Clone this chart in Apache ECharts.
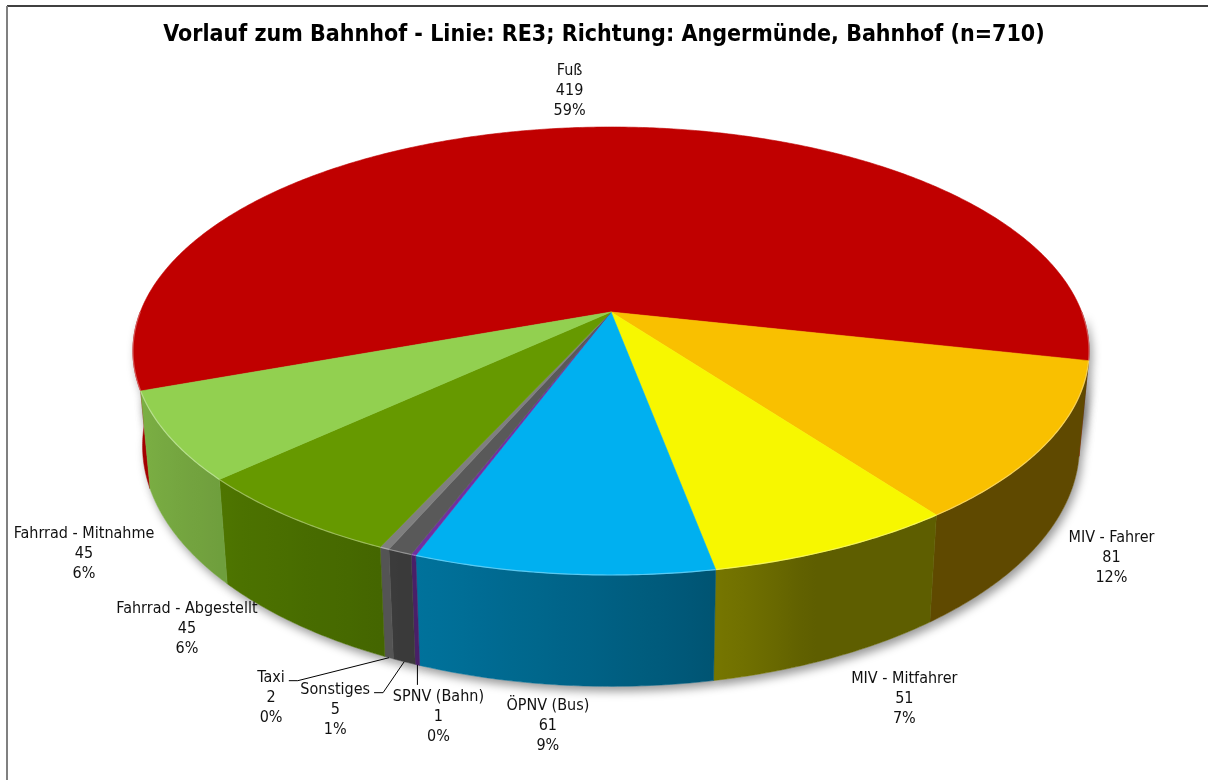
<!DOCTYPE html>
<html>
<head>
<meta charset="utf-8">
<title>Vorlauf zum Bahnhof - RE3</title>
<script src="https://cdn.jsdelivr.net/npm/echarts@6/dist/echarts.min.js"></script>
<style>
  html, body { margin: 0; padding: 0; background: #fff; }
  #main { width: 1208px; height: 780px; }
</style>
</head>
<body>
<div id="main"></div>
<script>
// Daten
var categories = ['Fuß', 'MIV - Fahrer', 'MIV - Mitfahrer', 'ÖPNV (Bus)', 'SPNV (Bahn)',
  'Sonstiges', 'Taxi', 'Fahrrad - Abgestellt', 'Fahrrad - Mitnahme'];
var counts = [419, 81, 51, 61, 1, 5, 2, 45, 45];
var percentLabels = ['59%', '12%', '7%', '9%', '0%', '1%', '0%', '6%', '6%'];
var titleText = 'Vorlauf zum Bahnhof - Linie: RE3; Richtung: Angermünde, Bahnhof (n=710)';

// Farben / Layout
var sliceColors = ['#C00000', '#F9C000', '#F7F700', '#00B0F0', '#7030A0',
  '#595959', '#7F7F7F', '#669900', '#92D050'];
var FONT = '"DejaVu Sans Condensed", "Liberation Sans", sans-serif';
// 3D-Torte: Mittelpunkt, Radien, Perspektive, Höhe, Startwinkel (mathematisch, im Uhrzeigersinn)
var PIE = { cx: 611, cy: 312, rx: 470.7, ry: 217.2, persp: 0.1741, depth: 92, baseScale: 0.98, startAngle: 200 };
// Beschriftung relativ zum Randpunkt des Segments
var labelNudge = [[-15, -37], [73, 14], [74, 40], [-16, 41], [21, 52], [-69, 48], [-118, 40], [-110, 5], [-94, 16]];
var leaderKind = ['', '', '', '', 'top', 'side', 'side', '', ''];

var total = counts.reduce(function (a, b) { return a + b; }, 0);

function sliceRange(i) {
  var before = 0;
  for (var j = 0; j < i; j++) before += counts[j];
  var a0 = PIE.startAngle - before / total * 360;
  return [a0, a0 - counts[i] / total * 360];
}
function topPt(deg) {
  var r = deg * Math.PI / 180, u = Math.cos(r), v = Math.sin(r), d = 1 + PIE.persp * v;
  return [PIE.cx + PIE.rx * u / d, PIE.cy - PIE.ry * v / d];
}
function basePt(deg) {
  var r = deg * Math.PI / 180, u = Math.cos(r), v = Math.sin(r), d = 1 + PIE.persp * v;
  return [PIE.cx + PIE.baseScale * PIE.rx * u / d, PIE.cy - PIE.ry * v / d + PIE.depth / d];
}
function arc(fn, from, to) {
  var pts = [], steps = Math.max(2, Math.ceil((from - to) / 0.5));
  for (var k = 0; k <= steps; k++) pts.push(fn(from - (from - to) * k / steps));
  return pts;
}
// sichtbare (vordere) Teile eines Segments
function frontRuns(a0, a1) {
  var runs = [];
  for (var n = -2; n <= 2; n++) {
    var lo = -180 + 360 * n, hi = 360 * n;
    var s = Math.max(a1, lo), e = Math.min(a0, hi);
    if (e - s > 1e-6) runs.push([e, s]);
  }
  return runs;
}
function wallShade(deg) {
  var a = ((deg % 360) + 360) % 360;
  var t = Math.min(1, Math.max(0, (290 - a) / 90));
  return 0.38 + 0.47 * Math.pow(t, 0.7);
}
function rgb(hex) {
  var n = parseInt(hex.slice(1), 16);
  return [(n >> 16) & 255, (n >> 8) & 255, n & 255];
}
function shade(hex, f) {
  var c = rgb(hex);
  return 'rgb(' + Math.round(c[0] * f) + ',' + Math.round(c[1] * f) + ',' + Math.round(c[2] * f) + ')';
}
function tint(hex, f) {
  var c = rgb(hex);
  return 'rgb(' + c.map(function (x) { return Math.round(x + (255 - x) * f); }).join(',') + ')';
}
function wallPoints(run) {
  return arc(topPt, run[0], run[1]).concat(arc(basePt, run[0], run[1]).reverse());
}

var measureCtx = document.createElement('canvas').getContext('2d');
measureCtx.font = '16px ' + FONT;

function renderShadow(params, api) {
  var r = sliceRange(params.dataIndex);
  return {
    type: 'group',
    children: frontRuns(r[0], r[1]).map(function (run) {
      return {
        type: 'polygon', shape: { points: wallPoints(run) },
        style: { fill: '#fff', shadowBlur: 10, shadowColor: 'rgba(0,0,0,0.4)', shadowOffsetX: 3, shadowOffsetY: 5 }
      };
    })
  };
}

function renderWall(params, api) {
  var i = params.dataIndex;
  var r = sliceRange(i);
  var base = sliceColors[i];
  return {
    type: 'group',
    children: frontRuns(r[0], r[1]).map(function (run) {
      var pts = wallPoints(run);
      var xs = pts.map(function (p) { return p[0]; });
      var minX = Math.min.apply(null, xs), maxX = Math.max.apply(null, xs);
      var fill;
      if (maxX - minX < 2) {
        fill = shade(base, wallShade((run[0] + run[1]) / 2));
      } else {
        var stops = [], steps = 12;
        for (var k = 0; k <= steps; k++) {
          var deg = run[0] - (run[0] - run[1]) * k / steps;
          var off = (topPt(deg)[0] - minX) / (maxX - minX);
          stops.push({ offset: Math.min(1, Math.max(0, off)), color: shade(base, wallShade(deg)) });
        }
        stops.sort(function (a, b) { return a.offset - b.offset; });
        fill = new echarts.graphic.LinearGradient(0, 0, 1, 0, stops);
      }
      return { type: 'polygon', shape: { points: pts }, style: { fill: fill, stroke: fill, lineWidth: 0.5 } };
    })
  };
}

function renderTop(params, api) {
  var i = params.dataIndex;
  var r = sliceRange(i);
  var color = sliceColors[i];
  var children = [];
  children.push({
    type: 'polygon',
    shape: { points: [[PIE.cx, PIE.cy]].concat(arc(topPt, r[0], r[1])) },
    style: { fill: color, stroke: color, lineWidth: 0.6 }
  });
  frontRuns(r[0], r[1]).forEach(function (run) {
    children.push({
      type: 'polyline', shape: { points: arc(topPt, run[0], run[1]) },
      style: { stroke: tint(color, 0.45), lineWidth: 1.2, opacity: 0.75, fill: null }
    });
  });

  // Beschriftung
  var mid = (r[0] + r[1]) / 2;
  var anchor = Math.sin(mid * Math.PI / 180) > 0 ? topPt(mid) : basePt(mid);
  var lx = anchor[0] + labelNudge[i][0], ly = anchor[1] + labelNudge[i][1];
  var lineH = 20;
  children.push({
    type: 'text', x: lx, y: ly,
    style: {
      text: categories[i] + '\n' + api.value(0) + '\n' + percentLabels[i],
      fill: '#111', fontSize: 16, fontFamily: FONT,
      align: 'center', verticalAlign: 'middle', lineHeight: lineH
    }
  });
  if (leaderKind[i] === 'top') {
    children.push({
      type: 'polyline',
      shape: { points: [anchor, [anchor[0], ly - 1.5 * lineH - 2]] },
      style: { stroke: '#000', lineWidth: 1, fill: null }
    });
  } else if (leaderKind[i] === 'side') {
    var w = measureCtx.measureText(categories[i]).width;
    var end = [lx + w / 2 + 4, ly - lineH + 3];
    children.push({
      type: 'polyline',
      shape: { points: [anchor, [end[0] + 9, end[1]], end] },
      style: { stroke: '#000', lineWidth: 1, fill: null }
    });
  }
  return { type: 'group', children: children };
}

var seriesData = counts.map(function (c, i) { return { name: categories[i], value: [c, i] }; });

var chart = echarts.init(document.getElementById('main'));
chart.setOption({
  animation: false,
  backgroundColor: '#fff',
  title: {
    text: titleText,
    left: 'center',
    top: 19,
    textStyle: { fontFamily: FONT, fontSize: 23, fontWeight: 'bold', color: '#000' }
  },
  graphic: [
    { type: 'line', shape: { x1: 7, y1: 6, x2: 1208, y2: 6 }, style: { stroke: '#000', lineWidth: 1.5 } },
    { type: 'line', shape: { x1: 7, y1: 6, x2: 7, y2: 780 }, style: { stroke: '#808080', lineWidth: 2 } }
  ],
  series: [
    { type: 'custom', name: 'Schatten', coordinateSystem: 'none', silent: true, z: 1, data: seriesData, renderItem: renderShadow },
    { type: 'custom', name: 'Mantel', coordinateSystem: 'none', silent: true, z: 2, data: seriesData, renderItem: renderWall },
    { type: 'custom', name: 'Deckel', coordinateSystem: 'none', silent: true, z: 3, data: seriesData, renderItem: renderTop }
  ]
});
</script>
</body>
</html>
